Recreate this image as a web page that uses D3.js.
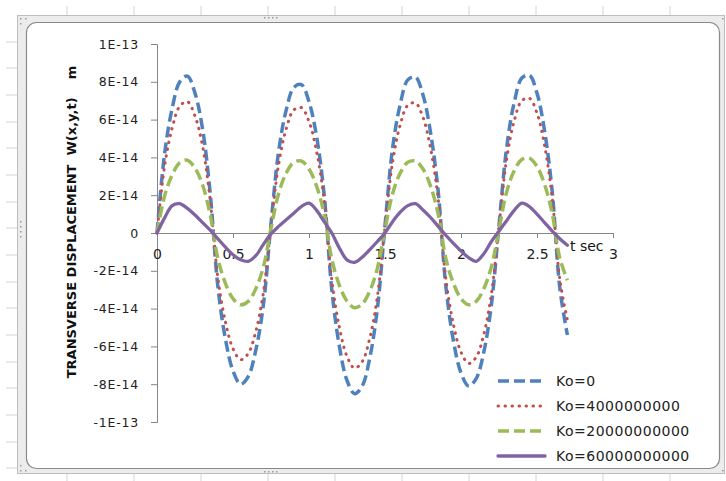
<!DOCTYPE html>
<html>
<head>
<meta charset="utf-8">
<script src="https://cdn.jsdelivr.net/npm/d3@7"></script>
<style>
  html, body { margin: 0; padding: 0; background: #ffffff; }
  svg { display: block; }
  text { font-family: "DejaVu Sans", "Liberation Sans", sans-serif; }
</style>
</head>
<body>
<svg id="chart" width="726" height="481"></svg>
<script>
// ---------------- DATA ----------------
// time samples (s)
const tValues = [0,0.05,0.1,0.15,0.2,0.25,0.3,0.35,0.4,0.45,0.5,0.55,0.6,0.65,0.7,0.75,0.8,0.85,0.9,0.95,
  1,1.05,1.1,1.15,1.2,1.25,1.3,1.35,1.4,1.45,1.5,1.55,1.6,1.65,1.7,1.75,1.8,1.85,1.9,1.95,
  2,2.05,2.1,2.15,2.2,2.25,2.3,2.35,2.4,2.45,2.5,2.55,2.6,2.65,2.7];
// displacements, in units of 1E-14 m
const unitE14 = 1e-14;
const ko0 = [0,4.2,6.6,8.0,8.3,7.4,5.5,2.1,-2.8,-5.6,-7.3,-8.0,-7.6,-6.2,-3.8,0.5,4.3,6.5,7.7,7.85,
  6.95,5.1,2.0,-3.0,-6.0,-7.8,-8.5,-8.1,-6.6,-4.0,0.4,4.5,6.8,8.1,8.25,7.3,5.3,2.2,-2.8,-5.7,
  -7.4,-8.1,-7.7,-6.3,-3.8,0.4,4.5,6.9,8.2,8.35,7.4,5.4,2.2,-2.9,-5.4];
const ko4e9 = [0,3.54,5.56,6.71,6.95,6.19,4.59,1.74,-2.35,-4.69,-6.12,-6.7,-6.38,-5.21,-3.15,0.4,3.62,5.51,6.51,6.63,
  5.9,4.31,1.74,-2.5,-5.0,-6.53,-7.15,-6.81,-5.56,-3.36,0.35,3.75,5.72,6.76,6.88,6.12,4.47,1.81,-2.42,-4.83,
  -6.3,-6.9,-6.57,-5.36,-3.24,0.36,3.89,5.93,7.0,7.13,6.34,4.63,1.87,-2.45,-4.6];
const ko2e10 = [0,1.96,3.08,3.72,3.85,3.43,2.54,0.96,-1.33,-2.66,-3.47,-3.8,-3.62,-2.95,-1.79,0.23,2.08,3.17,3.74,3.81,
  3.39,2.48,1.0,-1.38,-2.77,-3.61,-3.95,-3.76,-3.07,-1.86,0.19,2.08,3.17,3.74,3.81,3.39,2.48,1.0,-1.33,-2.66,
  -3.47,-3.8,-3.62,-2.95,-1.79,0.2,2.16,3.29,3.89,3.96,3.52,2.57,1.04,-1.33,-2.5];
const ko6e10 = [0,0.8,1.45,1.55,1.3,0.95,0.55,0.15,-0.3,-0.75,-1.15,-1.42,-1.5,-1.2,-0.6,-0.05,0.35,0.7,1.05,1.4,
  1.58,1.2,0.6,0.0,-0.8,-1.42,-1.55,-1.28,-0.88,-0.45,0.0,0.6,1.1,1.45,1.55,1.22,0.82,0.35,-0.12,-0.55,
  -0.95,-1.3,-1.5,-1.1,-0.45,0.1,0.65,1.2,1.58,1.4,1.0,0.55,0.1,-0.3,-0.65];
const seriesNames = ["Ko=0","Ko=4000000000","Ko=20000000000","Ko=60000000000"];
const seriesColors = ["#4F81BD","#C0504D","#9BBB59","#8064A2"];

const xTicks = [0,0.5,1,1.5,2,2.5,3];
const xTickLabels = ["0","0.5","1","1.5","2","2.5","3"];
const yTicks = [1e-13,8e-14,6e-14,4e-14,2e-14,0,-2e-14,-4e-14,-6e-14,-8e-14,-1e-13];
const yTickLabels = ["1E-13","8E-14","6E-14","4E-14","2E-14","0","-2E-14","-4E-14","-6E-14","-8E-14","-1E-13"];
const xTitle = "t sec";
const yTitle = "TRANSVERSE DISPLACEMENT  W(x,y,t)    m";

// ---------------- LAYOUT ----------------
const svg = d3.select("#chart");

// spreadsheet background grid
const bg = svg.append("g");
const colLines = [67,134,201,268,335,402,469,536,603,670];
colLines.forEach(x => {
  bg.append("line").attr("x1", x).attr("x2", x).attr("y1", 6).attr("y2", 15).attr("stroke", "#d4d4d4");
  bg.append("line").attr("x1", x).attr("x2", x).attr("y1", 474).attr("y2", 481).attr("stroke", "#d4d4d4");
});
const rowLines = [42,68,95,122,148,175,202,228,255,282,308,335,362,388,415,442,468];
rowLines.forEach(y => {
  bg.append("line").attr("x1", 6).attr("x2", 17).attr("y1", y).attr("y2", y).attr("stroke", "#d4d4d4");
});

// chart selection frame
svg.append("rect").attr("x", 17.5).attr("y", 15.5).attr("width", 707).attr("height", 458)
  .attr("fill", "#ececec").attr("stroke", "#bdbdbd");
svg.append("rect").attr("x", 26.5).attr("y", 22.5).attr("width", 693).attr("height", 446)
  .attr("rx", 10).attr("ry", 10).attr("fill", "#ffffff").attr("stroke", "#8a8a8a").attr("stroke-width", 1.2);

// handle dots
const dots = svg.append("g").attr("fill", "#9a9a9a");
[[264,17],[268,17],[272,17],[276,17],[264,471],[268,471],[272,471],[276,471],
 [20,221],[20,226],[20,231],[20,236],[20,18],[25,18],[20,23],[20,470],[25,470],[20,465],[722,18],[722,470]]
  .forEach(p => dots.append("rect").attr("x", p[0]).attr("y", p[1]).attr("width", 1.5).attr("height", 1.5));

// scales
const x = d3.scaleLinear().domain([0, 3]).range([157, 613]);
const y = d3.scaleLinear().domain([-1e-13, 1e-13]).range([422, 44]);

// y axis
const yAxis = d3.axisLeft(y).tickValues(yTicks).tickSize(6).tickPadding(12)
  .tickFormat((d, i) => yTickLabels[i]);
const gy = svg.append("g").attr("transform", `translate(${x(0)},0)`).call(yAxis);
gy.select(".domain").attr("stroke", "#868686");
gy.selectAll(".tick line").attr("stroke", "#868686");
gy.selectAll(".tick text").attr("font-size", 12.5).attr("letter-spacing", 0.8).attr("fill", "#222")
  .attr("font-family", "DejaVu Sans");

// x axis
const xAxis = d3.axisBottom(x).tickValues(xTicks).tickSize(5).tickPadding(11)
  .tickFormat((d, i) => xTickLabels[i]);
const gx = svg.append("g").attr("transform", `translate(0,${y(0)})`).call(xAxis);
gx.select(".domain").attr("stroke", "#868686");
gx.selectAll(".tick line").attr("stroke", "#868686");
gx.selectAll(".tick text").attr("font-size", 14).attr("fill", "#222").attr("font-family", "DejaVu Sans");

// axis titles
svg.append("text").attr("x", 570).attr("y", 251).attr("font-size", 14).attr("fill", "#111")
  .text(xTitle);
svg.append("text")
  .attr("transform", `translate(76,222) rotate(-90)`)
  .attr("text-anchor", "middle").attr("font-size", 13).attr("font-weight", "bold").attr("fill", "#111")
  .style("white-space", "pre")
  .text(yTitle);

// series
const seriesData = [ko0, ko4e9, ko2e10, ko6e10];
const styles = [
  { width: 3.5, dash: "11 5", cap: "butt" },
  { width: 3, dash: "0.5 6.5", cap: "round" },
  { width: 3.5, dash: "11 5", cap: "butt" },
  { width: 3.3, dash: null, cap: "round" }
];
const line = d3.line()
  .x((d, i) => x(tValues[i]))
  .y(d => y(d * unitE14))
  .curve(d3.curveCatmullRom.alpha(0.5));

seriesData.forEach((vals, k) => {
  const p = svg.append("path").datum(vals)
    .attr("d", line)
    .attr("fill", "none")
    .attr("stroke", seriesColors[k])
    .attr("stroke-width", styles[k].width)
    .attr("stroke-linecap", styles[k].cap)
    .attr("stroke-linejoin", "round");
  if (styles[k].dash) p.attr("stroke-dasharray", styles[k].dash);
});

// legend
const legendY = [381, 406, 431, 456];
const lg = svg.append("g");
seriesNames.forEach((name, k) => {
  const l = lg.append("line").attr("x1", 498).attr("x2", 545)
    .attr("y1", legendY[k]).attr("y2", legendY[k])
    .attr("stroke", seriesColors[k]).attr("stroke-width", styles[k].width)
    .attr("stroke-linecap", styles[k].cap);
  if (styles[k].dash) l.attr("stroke-dasharray", styles[k].dash);
  lg.append("text").attr("x", 556).attr("y", legendY[k] + 5)
    .attr("font-size", 14).attr("letter-spacing", 0.5).attr("fill", "#222").text(name);
});
</script>
</body>
</html>
